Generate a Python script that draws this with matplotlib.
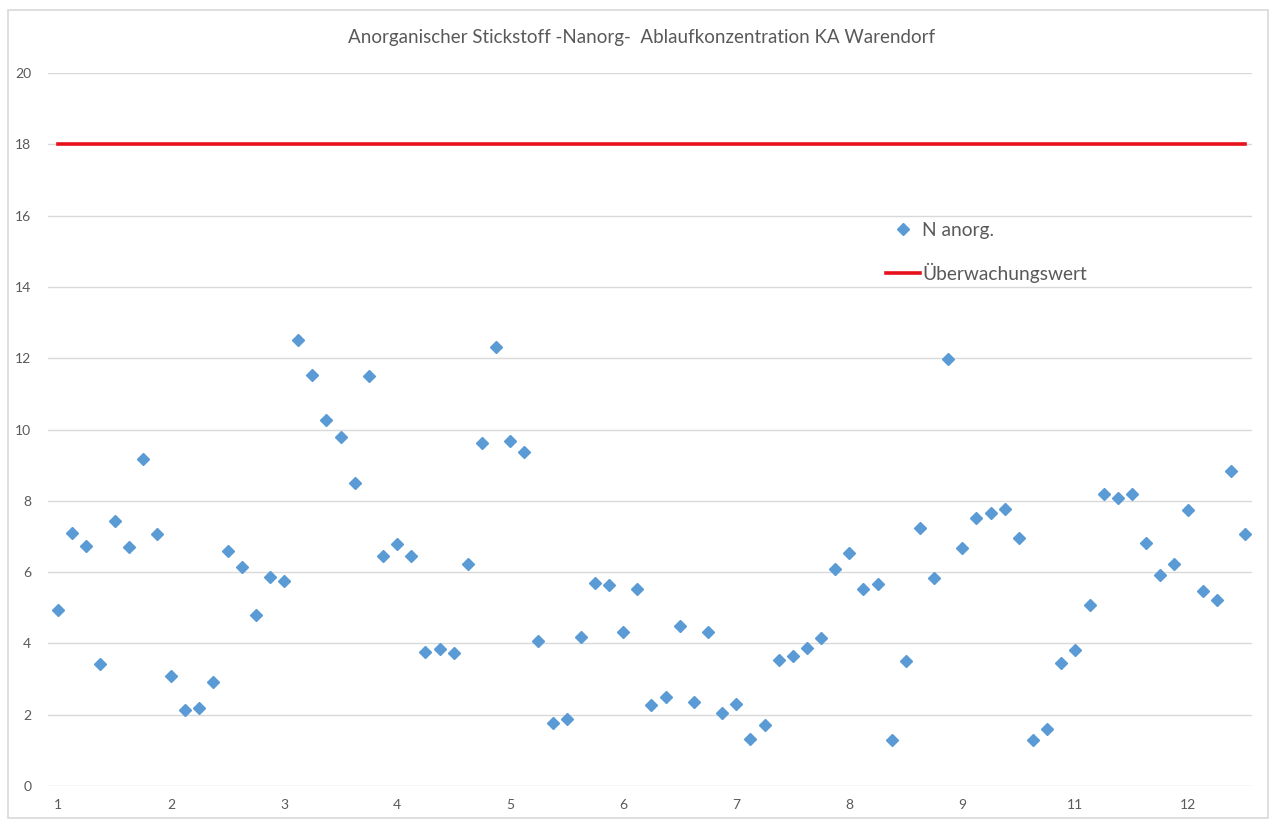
import numpy as np
import matplotlib.pyplot as plt
from matplotlib.patches import Rectangle

plt.rcParams['font.family'] = ['Lato', 'DejaVu Sans']

# N anorg. values (mg/l), one per sample
n_anorg = [4.94, 7.09, 6.73, 3.43, 7.42, 6.71, 9.16, 7.06,
           3.08, 2.12, 2.18, 2.91, 6.60, 6.13, 4.80, 5.87,
           5.76, 12.52, 11.54, 10.28, 9.79, 8.51, 11.51, 6.46,
           6.79, 6.46, 3.77, 3.84, 3.73, 6.22, 9.63, 12.32,
           9.69, 9.36, 4.08, 1.76, 1.89, 4.17, 5.70, 5.63,
           4.31, 5.53, 2.26, 2.49, 4.48, 2.35, 4.31, 2.05,
           2.31, 1.32, 1.72, 3.54, 3.64, 3.88, 4.14, 6.09,
           6.54, 5.53, 5.67, 1.30, 3.51, 7.23, 5.83, 11.98,
           6.67, 7.52, 7.65, 7.78, 6.97, 1.30, 1.60, 3.44,
           3.81, 5.07, 8.18, 8.07, 8.18, 6.83, 5.93, 6.23,
           7.75, 5.48, 5.21, 8.83, 7.06]
limit_value = 18  # Überwachungswert
month_labels = ['1', '2', '3', '4', '5', '6', '7', '8', '9', '11', '12']
yticks = [0, 2, 4, 6, 8, 10, 12, 14, 16, 18, 20]

x = np.arange(len(n_anorg))
limit = [limit_value] * len(n_anorg)

fig = plt.figure(figsize=(12.74, 8.21), dpi=100)
W, H = 1274, 821
ax = fig.add_axes([48 / W, 1 - 786 / H, (1252 - 48) / W, (786 - 73) / H])

# chart border
fig.patches.append(Rectangle((8 / W, 1 - 818 / H), (1268 - 8) / W, (818 - 10) / H,
                             transform=fig.transFigure, fill=False,
                             edgecolor='#d9d9d9', linewidth=1.2))

ax.plot(x, n_anorg, linestyle='none', marker='D', markersize=6.5,
        color='#5b9bd5', label='N anorg.', zorder=3)
ax.plot(x, limit, color='#e8101a', linewidth=2.6, label='Überwachungswert', zorder=2)

ax.set_ylim(0, 20)
ax.set_xlim(-0.71, 84.5)
ax.set_yticks(yticks)
ax.set_xticks(x[::8][:len(month_labels)])
ax.set_xticklabels(month_labels)
ax.grid(axis='y', color='#d9d9d9', linewidth=1)
ax.set_axisbelow(True)
for s in ax.spines.values():
    s.set_visible(False)
ax.tick_params(length=0, colors='#595959', labelsize=10)
ax.tick_params(axis='y', pad=12)
ax.tick_params(axis='x', pad=9)

fig.text(642 / W, 1 - 37 / H, 'Anorganischer Stickstoff -Nanorg-  Ablaufkonzentration KA Warendorf',
         ha='center', va='center', fontsize=13.5, color='#595959')

fig.legend(loc='upper left', bbox_to_anchor=(886 / W, 1 - 222 / H), frameon=False,
           fontsize=13.8, labelcolor='#595959', handlelength=1.75, handletextpad=0.15,
           labelspacing=1.25, borderpad=0, borderaxespad=0)

fig.savefig('out.png', dpi=100)
